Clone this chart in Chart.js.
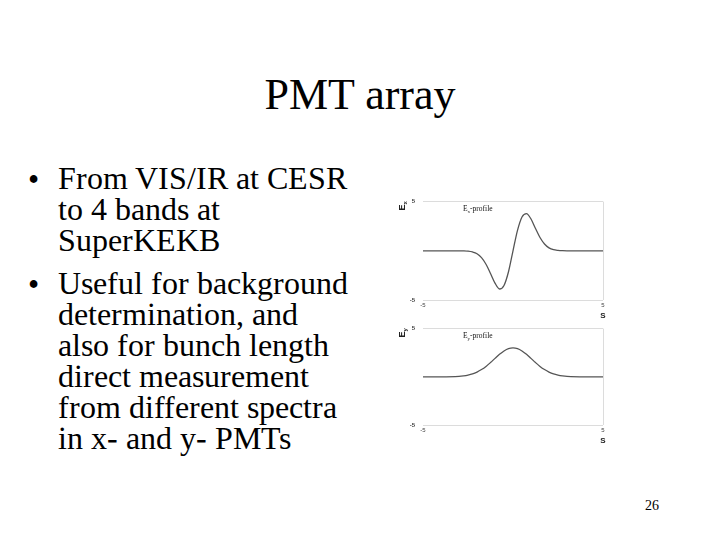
<!DOCTYPE html>
<html>
<head>
<meta charset="utf-8">
<script src="https://cdn.jsdelivr.net/npm/chart.js@4"></script>
<style>
  @font-face {
    font-family: "SlideSerif";
    src: local("Liberation Serif"), local("LiberationSerif");
    ascent-override: 79%;
    descent-override: 17%;
    line-gap-override: 0%;
  }
  html, body { margin: 0; padding: 0; background: #fff; }
  #slide { position: relative; width: 720px; height: 540px; background: #fff; overflow: hidden;
           font-family: "Liberation Serif", "Times New Roman", "DejaVu Serif", serif; color: #000; }
  .t { position: absolute; white-space: nowrap; }
  #title { left: 0; width: 720px; text-align: center; top: 73px; font-size: 44px; line-height: 44px; }
  .para { font-family: "SlideSerif", "Liberation Serif", serif; font-size: 32px; line-height: 31px; left: 58px; }
  .bul { font-family: "SlideSerif", "Liberation Serif", serif; font-size: 32px; line-height: 31px; left: 28px; }
  #page { left: 645px; top: 499px; font-size: 14px; line-height: 14px; }
  canvas { position: absolute; }
</style>
</head>
<body>
<div id="slide">
  <div id="title" class="t">PMT array</div>
  <div class="t bul" style="top:164.4px">•</div>
  <div class="t para" style="top:164.4px">From VIS/IR at CESR<br>to 4 bands at<br>SuperKEKB</div>
  <div class="t bul" style="top:269.4px">•</div>
  <div class="t para" style="top:269.4px">Useful for background<br>determination, and<br>also for bunch length<br>direct measurement<br>from different spectra<br>in x- and y- PMTs</div>
  <div id="page" class="t">26</div>
  <canvas id="cx" width="230" height="135" style="left:390px;top:190px;width:230px;height:135px"></canvas>
  <canvas id="cy" width="230" height="135" style="left:390px;top:317px;width:230px;height:135px"></canvas>
</div>
<script>
// ---- data ----
const sPositions = [-5, -4, -3, -2.75, -2.5, -2.25, -2, -1.75, -1.5, -1.25, -1, -0.75, -0.5, -0.25, 0,
                    0.25, 0.5, 0.75, 1, 1.25, 1.5, 1.75, 2, 2.25, 2.5, 2.75, 3, 4, 5];
const exProfile = [0, 0, 0, -0.01, -0.04, -0.12, -0.3, -0.7, -1.37, -2.3, -3.28, -3.88, -3.52, -2.13, 0,
                   2.08, 3.44, 3.78, 3.23, 2.27, 1.35, 0.69, 0.3, 0.11, 0.04, 0.01, 0, 0, 0];
const eyProfile = [0, 0, 0.05, 0.1, 0.18, 0.3, 0.49, 0.75, 1.08, 1.48, 1.91, 2.33, 2.68, 2.92, 3.0,
                   2.92, 2.68, 2.33, 1.91, 1.48, 1.08, 0.75, 0.49, 0.3, 0.18, 0.1, 0.05, 0, 0];
const xTickValues = [-5, 5];
const yTickValues = [-5, 5];
const axisX = 'S';

function labelPlugin(sub) {
  return {
    id: 'labels_' + sub,
    afterDraw(chart) {
      const ctx = chart.ctx;
      const a = chart.chartArea;
      ctx.save();
      ctx.fillStyle = '#222';
      ctx.translate(a.left - 18, a.top + 9);
      ctx.rotate(-Math.PI / 2);
      ctx.font = 'bold 9px "Liberation Sans", sans-serif';
      ctx.textBaseline = 'alphabetic';
      ctx.textAlign = 'left';
      ctx.fillText('E', 0, 0);
      const w = ctx.measureText('E').width;
      ctx.font = 'bold 6px "Liberation Sans", sans-serif';
      ctx.fillText(sub, w, 2);
      ctx.restore();

      ctx.save();
      ctx.fillStyle = '#111';
      ctx.textBaseline = 'alphabetic';
      ctx.textAlign = 'left';
      let x = a.left + 40, y = a.top + 9;
      ctx.font = '7.5px "Liberation Serif", serif';
      ctx.fillText('E', x, y);
      x += ctx.measureText('E').width;
      ctx.font = '5px "Liberation Serif", serif';
      ctx.fillText(sub, x, y + 2);
      x += ctx.measureText(sub).width;
      ctx.font = '7.5px "Liberation Serif", serif';
      ctx.fillText('-profile', x, y);
      ctx.restore();

      ctx.save();
      ctx.fillStyle = '#222';
      ctx.font = 'bold 8px "Liberation Sans", sans-serif';
      ctx.textAlign = 'center';
      ctx.textBaseline = 'middle';
      ctx.fillText(axisX, a.right, a.bottom + 16);
      ctx.restore();
    }
  };
}

function makeChart(id, values, sub, plotH) {
  const pts = sPositions.map((s, i) => ({ x: s, y: values[i] }));
  return new Chart(document.getElementById(id), {
    type: 'line',
    data: { datasets: [{ data: pts, borderColor: '#555', borderWidth: 1.3, pointRadius: 0,
                         tension: 0.4, cubicInterpolationMode: 'monotone', fill: false }] },
    options: {
      responsive: false, animation: false, devicePixelRatio: 1,
      layout: { padding: { left: 0, right: 17, top: 11, bottom: 0 } },
      plugins: { legend: { display: false }, tooltip: { enabled: false } },
      scales: {
        x: {
          type: 'linear', min: -5, max: 5,
          afterBuildTicks: s => { s.ticks = xTickValues.map(v => ({ value: v })); },
          afterFit: s => { s.height = 135 - 11 - plotH; },
          border: { display: false },
          grid: { drawTicks: false, lineWidth: 1,
                  color: c => (c.tick && c.tick.value === 5) ? '#dcdcdc' : 'rgba(0,0,0,0)' },
          ticks: { font: { size: 6, family: '"Liberation Sans", sans-serif' }, color: '#444',
                   padding: 2, maxRotation: 0, autoSkip: false }
        },
        y: {
          min: -5, max: 5,
          afterBuildTicks: s => { s.ticks = yTickValues.map(v => ({ value: v })); },
          afterFit: s => { s.width = 33; },
          border: { display: false },
          grid: { drawTicks: false, lineWidth: 1, color: '#dcdcdc' },
          ticks: { font: { size: 6, family: '"Liberation Sans", sans-serif', weight: 'bold' }, color: '#444',
                   padding: 8 }
        }
      }
    },
    plugins: [labelPlugin(sub)]
  });
}

makeChart('cx', exProfile, 'x', 99);
makeChart('cy', eyProfile, 'y', 97);
</script>
</body>
</html>
